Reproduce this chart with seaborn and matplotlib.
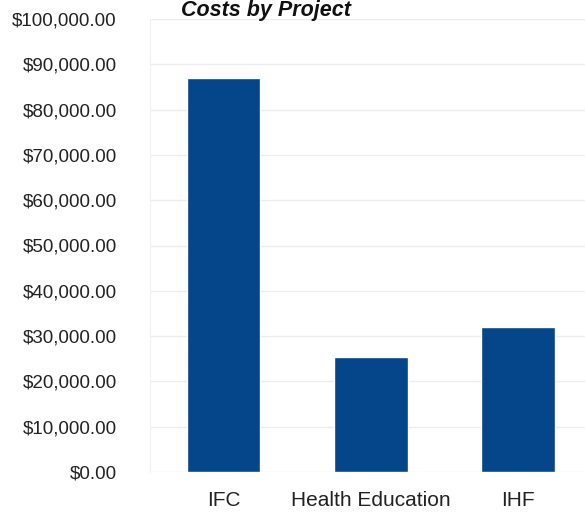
import matplotlib
matplotlib.use("Agg")
import matplotlib.pyplot as plt
import seaborn as sns
import pandas as pd
from matplotlib.ticker import FuncFormatter

# Data
projects = ["IFC", "Health Education", "IHF"]
costs = [87000, 25400, 32000]
y_ticks = list(range(0, 100001, 10000))

df = pd.DataFrame({"project": projects, "cost": costs})

sns.set_style("white")
plt.rcParams["font.family"] = ["Liberation Sans", "DejaVu Sans"]

fig = plt.figure(figsize=(5.85, 5.12), dpi=100)
# axes run past the right edge, as in the cropped original
ax = fig.add_axes([150 / 585, (512 - 472) / 512, (591.5 - 150) / 585, (472 - 19) / 512])

sns.barplot(data=df, x="project", y="cost", color="#05458a", width=0.5,
            saturation=1, ax=ax)

ax.set_ylim(0, 100000)
ax.set_xlim(-0.5, 2.5)
ax.set_yticks(y_ticks)
ax.yaxis.set_major_formatter(FuncFormatter(lambda v, p: "${:,.2f}".format(v)))
ax.grid(axis="y", color="#ececec", linewidth=1)
ax.set_axisbelow(True)
for s in ["top", "right", "bottom"]:
    ax.spines[s].set_visible(False)
ax.spines["left"].set_color("#f0f0f0")
ax.tick_params(axis="y", length=0, pad=24, labelsize=13.5, labelcolor="#222222")
ax.tick_params(axis="x", length=0, pad=14, labelsize=15, labelcolor="#222222")
ax.set_xlabel("")
ax.set_ylabel("")

fig.text(266 / 585, 1 - 16 / 512, "Costs by Project", ha="center", va="baseline",
         fontsize=15.5, fontweight="bold", fontstyle="italic", color="#111111")

fig.savefig("out.png", dpi=100)
